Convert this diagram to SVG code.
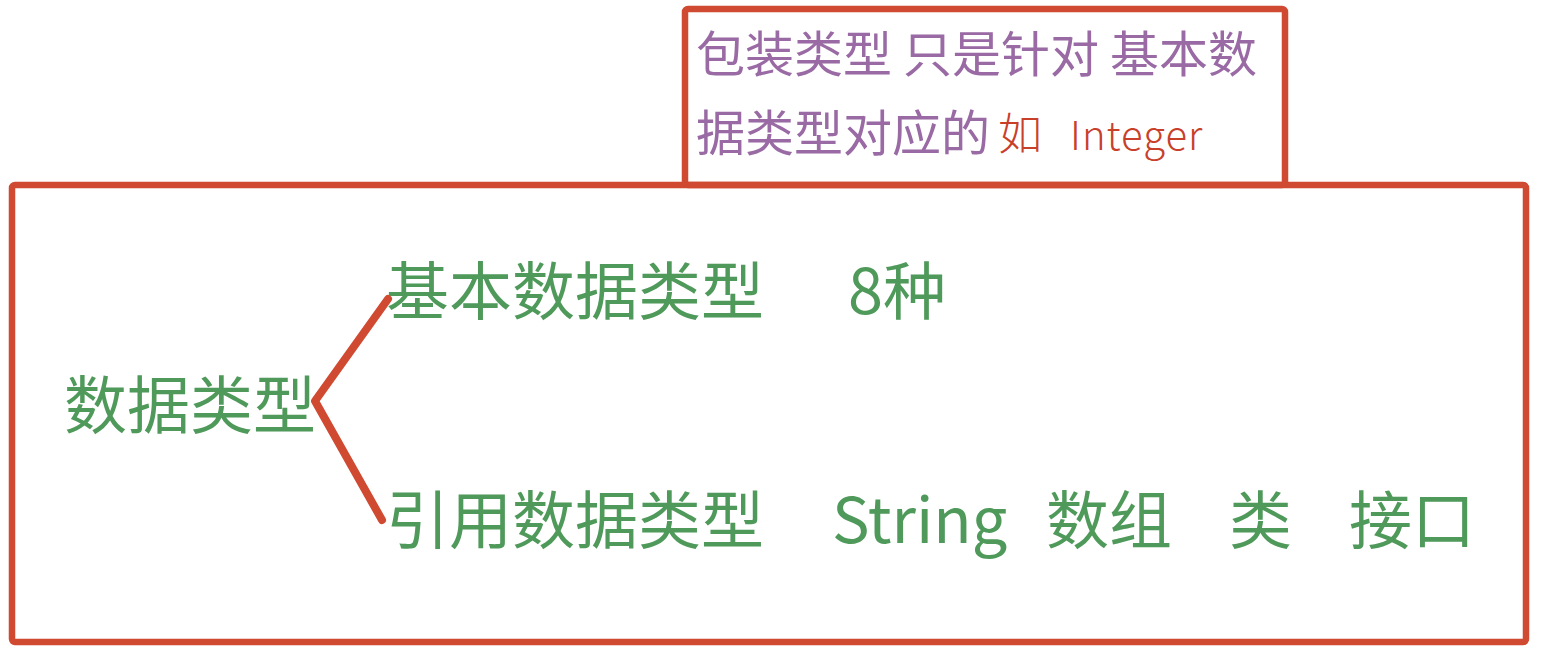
<svg xmlns="http://www.w3.org/2000/svg" width="1545" height="672" viewBox="0 0 1545 672">
<style>
.box{fill:none;stroke:#d04a32;stroke-width:6.5;}
.g{font-family:"Noto Sans CJK SC","Noto Sans",sans-serif;font-size:63px;fill:#4f9a5a;}
.p{font-family:"Noto Sans CJK SC","Noto Sans",sans-serif;font-size:49px;fill:#9a6aa5;}
.h{font-family:"Noto Sans CJK SC",sans-serif;font-size:44px;fill:#c8402a;font-weight:300;}
.conn{fill:none;stroke:#d04a32;stroke-width:8;stroke-linecap:round;stroke-linejoin:round;}
</style>
<rect width="1545" height="672" fill="#ffffff"/>
<g id="note">
<rect class="box" x="685" y="9" width="600" height="176" rx="3"/>
<text class="p" x="696" y="72">包装类型 只是针对 基本数</text>
<text class="p" x="696" y="151">据类型对应的</text>
<text class="h" y="150"><tspan x="998">如</tspan> <tspan x="1070" font-size="40" letter-spacing="1">Integer</tspan></text>
</g>
<g id="main">
<rect class="box" x="12" y="185" width="1514" height="457" rx="3"/>
</g>
<g id="root"><text class="g" x="64" y="428">数据类型</text></g>
<g id="basic"><text class="g" x="386" y="314">基本数据类型</text><text class="g" x="848" y="314">8种</text></g>
<g id="ref"><text class="g" x="386" y="543">引用数据类型</text><text class="g" x="832" y="543">String</text><text class="g" x="1046" y="543">数组</text><text class="g" x="1229" y="543">类</text><text class="g" x="1349" y="543">接口</text></g>
<g id="connectors">
<polyline class="conn" points="388,299 315,401 382,520"/>
</g>
</svg>
